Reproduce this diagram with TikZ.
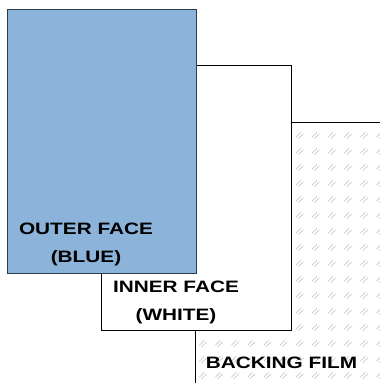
\documentclass[tikz,border=0pt]{standalone}
\usepackage{fontspec}
\setmainfont[FakeStretch=1.26]{Liberation Sans}
\usetikzlibrary{positioning}

\definecolor{faceblue}{RGB}{140,180,218}
\definecolor{faceedge}{RGB}{45,60,75}
\definecolor{hatchgray}{RGB}{185,185,185}

\tikzset{
  layer/.style={draw, line width=0.9pt, anchor=north west, inner sep=0pt},
  lbl/.style={align=center, font=\bfseries\fontsize{16.5}{28}\selectfont},
}

\begin{document}
\begin{tikzpicture}[x=1pt,y=1pt]

  \useasboundingbox (0,0) rectangle (380,-383);
  \clip (0,0) rectangle (380,-383);

  % backing film, runs off the page
  \node[layer, minimum width=200pt, minimum height=275pt] (film) at (195,-122) {};
  \begin{scope}
    \clip (film.north west) rectangle (film.south east);
    \foreach \i in {0,...,11}
      \foreach \j in {0,...,16} {
        \draw[hatchgray, line width=0.7pt, dash pattern=on 1.2pt off 0.6pt]
          (203+16.1*\i-3.5,-119-16*\j-2) -- ++(5,5)
          (203+16.1*\i-1,-119-16*\j-3.5) -- ++(5,5);
      }
  \end{scope}
  \draw[line width=0.9pt] (film.north east) -- (film.north west) -- (film.south west);

  % inner face
  \node[layer, fill=white, minimum width=190pt, minimum height=265pt] (inner) at (101,-65) {};

  % outer face
  \node[layer, draw=faceedge, fill=faceblue, minimum width=189pt, minimum height=264pt] (outer) at (7,-9) {};

  \node[lbl] (outerlbl) at (86,-244) {OUTER FACE\\(BLUE)};
  \node[lbl] (innerlbl) at (176,-302) {INNER FACE\\(WHITE)};
  \node[lbl] (filmlbl) at (281.5,-363) {BACKING FILM};

\end{tikzpicture}
\end{document}
